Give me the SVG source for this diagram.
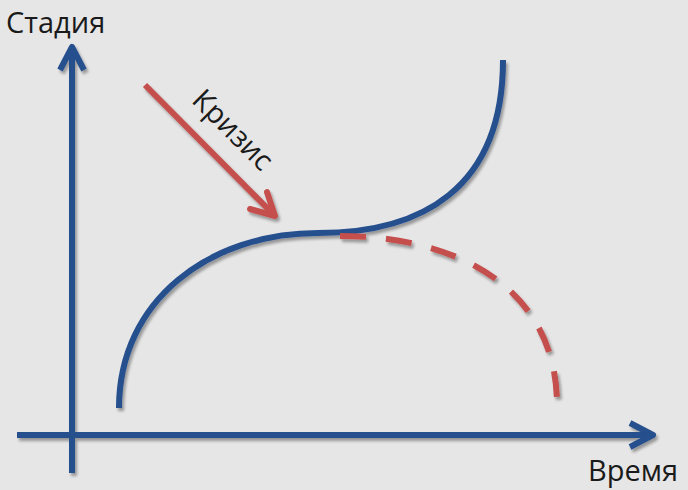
<svg xmlns="http://www.w3.org/2000/svg" width="688" height="490" viewBox="0 0 688 490">
<defs>
<style>
.blue{fill:none;stroke:#264f8e;stroke-width:6;stroke-linecap:butt;stroke-linejoin:round}
.red{fill:none;stroke:#c4504d;stroke-width:6}
.lbl{font-family:"Open Sans","Noto Sans","DejaVu Sans",sans-serif;font-size:29px;fill:#1a1a1a}
</style>
<filter id="sh" x="-10%" y="-10%" width="120%" height="120%">
<feGaussianBlur in="SourceAlpha" stdDeviation="1.5"/>
<feOffset dx="1.5" dy="2.5" result="b"/>
<feComponentTransfer><feFuncA type="linear" slope="0.35"/></feComponentTransfer>
<feMerge><feMergeNode/><feMergeNode in="SourceGraphic"/></feMerge>
</filter>
</defs>
<rect width="688" height="490" fill="#e6e6e6"/>
<g id="connectors" filter="url(#sh)">
<g id="y-axis">
<line class="blue" x1="72" y1="473" x2="72" y2="48"/>
<polyline class="blue" points="60,70 72,47 84,70" stroke-linecap="round"/>
</g>
<g id="x-axis">
<line class="blue" x1="17" y1="435" x2="652" y2="435"/>
<polyline class="blue" points="630,423 653,435 630,447" stroke-linecap="round"/>
</g>
<path id="growth" class="blue" d="M119,408 C119,300 210,233 318,233 C420,233 503,190 503,60"/>
<path id="decline" class="red" stroke-dasharray="26,20" d="M340,236 C460,236 557,290 557,405"/>
<g id="crisis-arrow">
<line class="red" x1="145" y1="85" x2="274" y2="215"/>
<polyline class="red" points="267,192 275,216 250,209" stroke-linecap="round" stroke-linejoin="round"/>
</g>
</g>
<g id="label-stage"><text class="lbl" x="6" y="33">Стадия</text></g>
<g id="label-time"><text class="lbl" x="588" y="481">Время</text></g>
<g id="label-crisis"><text class="lbl" transform="translate(226,137) rotate(45)" text-anchor="middle">Кризис</text></g>
</svg>
